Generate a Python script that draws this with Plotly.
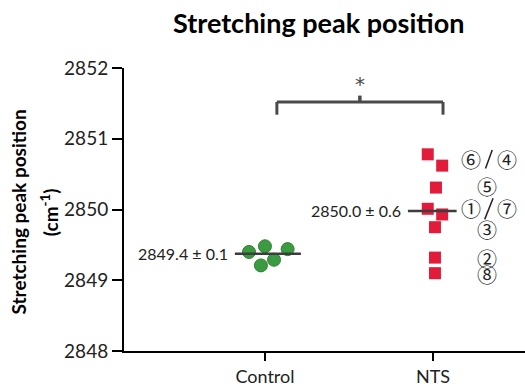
import plotly.graph_objects as go

FONT = "Lato"

categories = ["Control", "NTS"]
control_values = [2849.40, 2849.48, 2849.44, 2849.21, 2849.29]
control_jitter = [-0.095, 0.0, 0.135, -0.024, 0.054]
nts_values = [2850.78, 2850.62, 2850.31, 2850.01, 2849.93, 2849.75, 2849.32, 2849.10]
nts_jitter = [-0.031, 0.055, 0.018, -0.031, 0.055, 0.012, 0.012, 0.012]
control_mean = 2849.375
nts_mean = 2849.98
mean_labels = ["2849.4 ± 0.1", "2850.0 ± 0.6"]
y_ticks = [2848, 2849, 2850, 2851, 2852]

# sample labels next to NTS points (text, y)
sample_labels = [
    ("⑥", 2850.71, "left"), ("④", 2850.71, "right"),
    ("⑤", 2850.32, "mid"),
    ("①", 2850.01, "left"), ("⑦", 2850.01, "right"),
    ("③", 2849.72, "mid"),
    ("②", 2849.31, "mid"),
    ("⑧", 2849.08, "mid"),
]
label_x = {"left": 1.226, "mid": 1.32, "right": 1.44}

ci = {c: i for i, c in enumerate(categories)}

fig = go.Figure()

fig.add_trace(go.Scatter(
    x=[ci["Control"] + j for j in control_jitter], y=control_values,
    mode="markers",
    marker=dict(symbol="circle", size=13, color="#3b9b41",
                line=dict(color="#2f7f35", width=1)),
    showlegend=False, hoverinfo="y"))

fig.add_trace(go.Scatter(
    x=[ci["NTS"] + j for j in nts_jitter], y=nts_values,
    mode="markers",
    marker=dict(symbol="square", size=12, color="#e31b3b", line=dict(width=0)),
    showlegend=False, hoverinfo="y"))

# mean lines
fig.add_trace(go.Scatter(x=[ci["Control"] - 0.179, ci["Control"] + 0.214],
                         y=[control_mean, control_mean], mode="lines",
                         line=dict(color="#3d3d3d", width=2.5),
                         showlegend=False, hoverinfo="skip"))
fig.add_trace(go.Scatter(x=[ci["NTS"] - 0.149, ci["NTS"] + 0.141],
                         y=[nts_mean, nts_mean], mode="lines",
                         line=dict(color="#3d3d3d", width=2.5),
                         showlegend=False, hoverinfo="skip"))

annotations = []
annotations.append(dict(x=ci["Control"] - 0.208, y=control_mean, text=mean_labels[0],
                        xanchor="right", yanchor="middle", showarrow=False,
                        font=dict(family=FONT, size=16, color="#222")))
annotations.append(dict(x=ci["NTS"] - 0.179, y=nts_mean, text=mean_labels[1],
                        xanchor="right", yanchor="middle", showarrow=False,
                        font=dict(family=FONT, size=16, color="#222")))
for txt, yv, pos in sample_labels:
    annotations.append(dict(x=label_x[pos], y=yv, text=txt, showarrow=False,
                            xanchor="center", yanchor="middle",
                            font=dict(family="Noto Sans CJK JP", size=20, color="#222")))

# significance star
annotations.append(dict(x=0.565, y=2851.77, text="*", showarrow=False,
                        xanchor="center", yanchor="middle",
                        font=dict(family="DejaVu Sans", size=20, color="#4a4a4a")))

# y axis title lines
annotations.append(dict(xref="paper", yref="paper", x=-0.264, y=0.49, text="Stretching peak position",
                        textangle=-90, showarrow=False, xanchor="center", yanchor="middle",
                        font=dict(family=FONT, size=19, color="#000", weight="bold")))
annotations.append(dict(xref="paper", yref="paper", x=-0.185, y=0.49, text="(cm<sup>-1</sup>)",
                        textangle=-90, showarrow=False, xanchor="center", yanchor="middle",
                        font=dict(family=FONT, size=19, color="#000", weight="bold")))

shapes = []
br_col = "#4a4a4a"
# bracket
shapes.append(dict(type="line", x0=0.071, x1=1.06, y0=2851.52, y1=2851.52,
                   line=dict(color=br_col, width=3)))
shapes.append(dict(type="line", x0=0.071, x1=0.071, y0=2851.52, y1=2851.34,
                   line=dict(color=br_col, width=3)))
shapes.append(dict(type="line", x0=1.06, x1=1.06, y0=2851.52, y1=2851.34,
                   line=dict(color=br_col, width=3)))
shapes.append(dict(type="line", x0=0.565, x1=0.565, y0=2851.52, y1=2851.61,
                   line=dict(color=br_col, width=3.5)))
# slashes between paired labels
shapes.append(dict(type="line", x0=1.353, x1=1.313, y0=2850.84, y1=2850.58,
                   line=dict(color="#222", width=1.5)))
shapes.append(dict(type="line", x0=1.358, x1=1.308, y0=2850.16, y1=2849.86,
                   line=dict(color="#222", width=1.5)))

fig.update_layout(
    width=525, height=387,
    margin=dict(l=124, r=0, t=68, b=32),
    paper_bgcolor="white", plot_bgcolor="white",
    title=dict(text="<b>Stretching peak position</b>", x=0.607, xanchor="center",
               y=0.94, yanchor="middle",
               font=dict(family=FONT, size=27, color="#000")),
    annotations=annotations, shapes=shapes,
    xaxis=dict(range=[-0.839, 1.548], tickmode="array", tickvals=[0, 1],
               ticktext=categories, showgrid=False, zeroline=False,
               showline=True, linecolor="#000", linewidth=2,
               ticks="outside", ticklen=8, tickwidth=2, tickcolor="#000",
               tickfont=dict(family=FONT, size=18, color="#222")),
    yaxis=dict(range=[2848, 2852], tickvals=y_ticks, showgrid=False, zeroline=False,
               showline=True, linecolor="#000", linewidth=2,
               ticks="outside", ticklen=10, tickwidth=2, tickcolor="#000",
               tickfont=dict(family=FONT, size=19, color="#222")),
)

fig.write_html("out.html")
